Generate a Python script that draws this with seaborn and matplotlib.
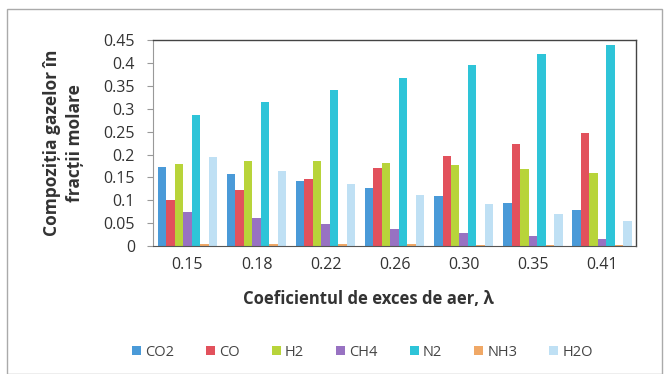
import matplotlib
matplotlib.use("Agg")
import matplotlib.pyplot as plt
from matplotlib.patches import Rectangle
from matplotlib.ticker import FixedLocator, NullFormatter
import seaborn as sns
import pandas as pd

# Air excess coefficient (lambda) values
lambdas = ["0.15", "0.18", "0.22", "0.26", "0.30", "0.35", "0.41"]

# Molar fractions of each gas species
co2 = [0.172, 0.158, 0.142, 0.126, 0.110, 0.094, 0.078]
co = [0.101, 0.122, 0.147, 0.171, 0.197, 0.222, 0.246]
h2 = [0.180, 0.185, 0.185, 0.182, 0.177, 0.169, 0.160]
ch4 = [0.075, 0.062, 0.049, 0.038, 0.029, 0.022, 0.015]
n2 = [0.286, 0.315, 0.340, 0.368, 0.395, 0.419, 0.439]
nh3 = [0.005, 0.005, 0.004, 0.004, 0.003, 0.003, 0.002]
h2o = [0.195, 0.164, 0.136, 0.112, 0.091, 0.071, 0.055]

gases = ["CO2", "CO", "H2", "CH4", "N2", "NH3", "H2O"]
series = [co2, co, h2, ch4, n2, nh3, h2o]
colors = ["#4a9ad8", "#e2515c", "#b8d43a", "#9872c2", "#2ec4d8", "#f0a866", "#bfe0f4"]

df = pd.DataFrame(
    [(lam, g, v) for g, vals in zip(gases, series) for lam, v in zip(lambdas, vals)],
    columns=["lambda", "gas", "value"],
)

sns.set_style("white")
plt.rcParams["font.family"] = ["Open Sans", "DejaVu Sans"]

fig = plt.figure(figsize=(6.65, 3.74), dpi=100)
ax = fig.add_axes([0.230, 0.342, 0.727, 0.551])

sns.barplot(
    data=df, x="lambda", y="value", hue="gas", order=lambdas, hue_order=gases,
    palette=colors, width=0.86, ax=ax, legend=True,
    edgecolor="none", linewidth=0, saturation=1,
)

ax.set_ylim(0, 0.45)
ax.set_xlim(-0.5, 6.5)
ax.set_yticks([0, 0.05, 0.1, 0.15, 0.2, 0.25, 0.3, 0.35, 0.4, 0.45])
ax.set_yticklabels(["0", "0.05", "0.1", "0.15", "0.2", "0.25", "0.3", "0.35", "0.4", "0.45"],
                   fontsize=11.5, color="#333333")
ax.tick_params(axis="x", which="major", length=0, labelsize=11.5, labelcolor="#333333", pad=8)
ax.xaxis.set_minor_locator(FixedLocator([i + 0.5 for i in range(-1, 7)]))
ax.xaxis.set_minor_formatter(NullFormatter())
ax.tick_params(axis="x", which="minor", length=4, color="#999999", direction="out")
ax.tick_params(axis="y", length=4, color="#999999", direction="out", left=True, pad=9)

for side in ["top", "right"]:
    ax.spines[side].set_color("#444444")
    ax.spines[side].set_linewidth(1.0)
ax.spines["left"].set_color("#999999")
ax.spines["bottom"].set_color("#555555")

ax.set_ylabel("Compoziția gazelor în\nfracții molare", fontsize=12.5, fontweight="bold",
              color="#333333", linespacing=1.35)
ax.yaxis.set_label_coords(-0.142, 0.5)
ax.set_xlabel("Coeficientul de exces de aer, λ", fontsize=12, fontweight="bold",
              color="#333333")
ax.xaxis.set_label_coords(0.445, -0.215)

handles, labels = ax.get_legend_handles_labels()
ax.legend(handles, labels, loc="center", bbox_to_anchor=(0.545, 0.058),
          bbox_transform=fig.transFigure, ncol=7, frameon=False, fontsize=10.5,
          handlelength=0.6, handleheight=0.6, handletextpad=0.3, columnspacing=2.2,
          labelcolor="#444444")

fig.patches.append(Rectangle((7 / 665, 0.0), 655 / 665, 1 - 9 / 374,
                             transform=fig.transFigure, fill=False,
                             edgecolor="#aaaaaa", linewidth=1.0))

fig.savefig("out.png", dpi=100, facecolor="white")
